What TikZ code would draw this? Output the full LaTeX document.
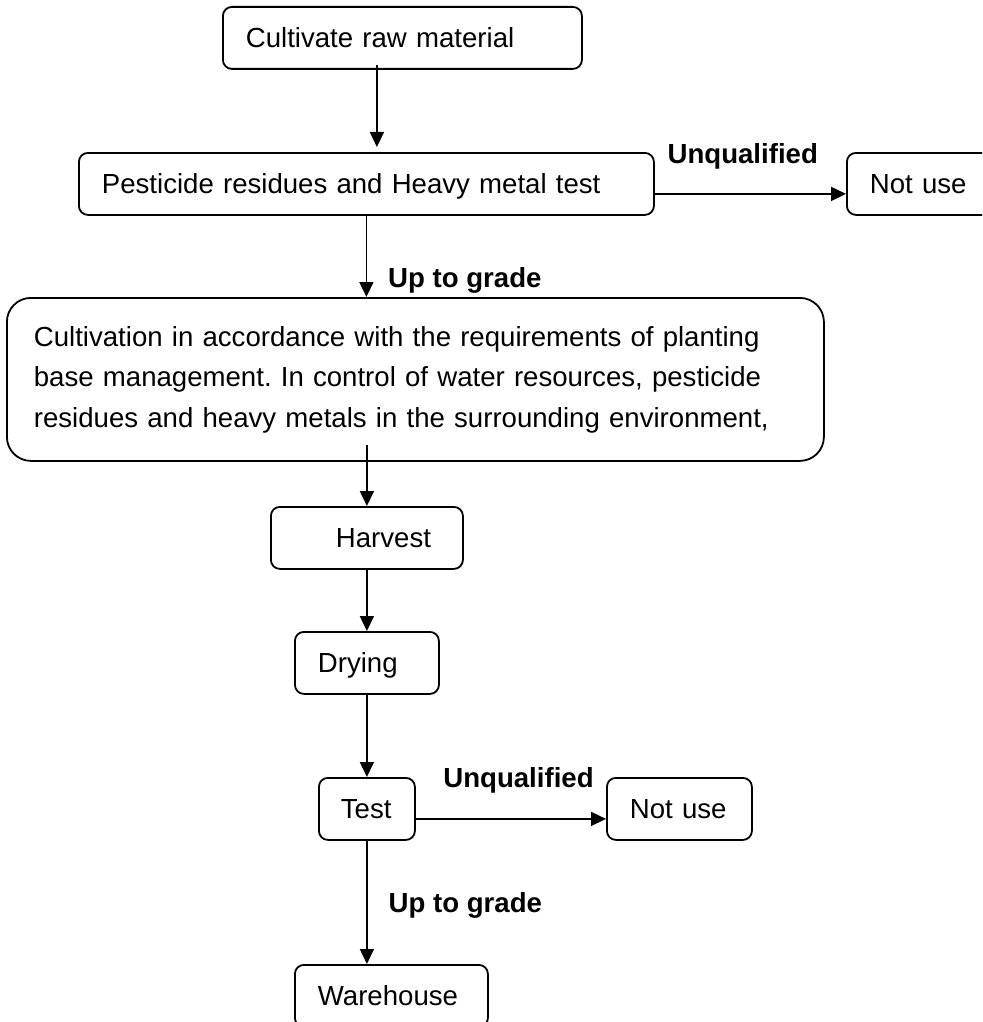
\documentclass[tikz,border=0pt]{standalone}
\usepackage{fontspec}
\setmainfont{Liberation Sans}
\usetikzlibrary{calc,arrows.meta}
\frenchspacing

\begin{document}
\begin{tikzpicture}[x={(0.5pt,0pt)}, y={(0pt,-0.5pt)}, font=\fontsize{13.8}{20.25}\selectfont]
%styles
\tikzstyle{box}=[draw, line width=0.9pt, rounded corners=4.5pt, anchor=north west, align=left, inner xsep=11.5pt, inner ysep=2pt, minimum height=31pt, text height=1em, text depth=0.05em]
\tikzstyle{bigbox}=[draw, line width=0.9pt, rounded corners=12pt, anchor=north west, align=left, inner xsep=13.5pt, minimum height=81.5pt]
\tikzstyle{lbl}=[inner sep=0pt, font=\fontsize{13.8}{16}\selectfont\bfseries]
\tikzstyle{arr}=[-{Triangle[length=7.5pt,width=7pt]}, line width=0.8pt]

\path[use as bounding box, clip] (0,0) rectangle (982,1022);

%boxes
\node[box, text width=156.5pt] (raw) at (222,6) {Cultivate raw material};
\node[box, text width=264.5pt] (residue) at (78,152) {Pesticide residues and Heavy metal test};
\node[box, text width=49.5pt] (nouseA) at (846,152) {Not use};
\node[bigbox, text width=381.5pt] (plant) at (6,297) {Cultivation in accordance with the requirements of planting\\
base management. In control of water resources, pesticide\\
residues and heavy metals in the surrounding environment,};
\node[box, text width=73pt] (harvest) at (270,506) {\hspace*{21pt}Harvest};
\node[box, text width=49pt] (drying) at (294,631) {Drying};
\node[box, text width=26pt, inner xsep=11pt] (test) at (318,777) {Test};
\node[box, text width=49.5pt] (nouseB) at (606,777) {Not use};
\node[box, text width=73.5pt] (store) at (294,964) {Warehouse};

%arrows
\draw[arr] ($(raw.south)+(-25.5,-5)$) -- ($(raw.south |- residue.north)+(-25.5,-5)$);
\draw[arr] ([yshift=-5pt]residue.east) -- node[lbl, pos=0.46, above=12pt] {Unqualified} ([yshift=-5pt]nouseA.west);
\draw[arr] (residue.south) -- node[lbl, pos=0.88, anchor=base west, xshift=10.5pt] {Up to grade} (residue.south |- plant.north);
\draw[arr] ($(plant.south -| harvest.north)+(0,-17)$) -- (harvest.north);
\draw[arr] (harvest.south) -- (drying.north);
\draw[arr] (drying.south) -- (test.north);
\draw[arr] ([yshift=-5pt]test.east) -- node[lbl, pos=0.54, above=12.5pt] {Unqualified} ([yshift=-5pt]nouseB.west);
\draw[arr] (test.south) -- node[lbl, pos=0.584, anchor=base west, xshift=10.5pt] {Up to grade} (test.south |- store.north);

\end{tikzpicture}
\end{document}
